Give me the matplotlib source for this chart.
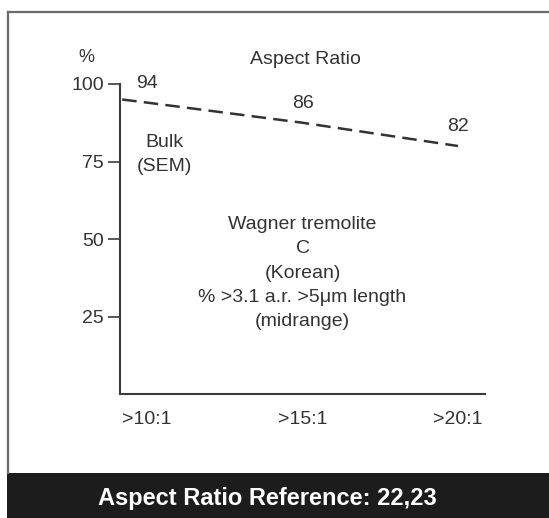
import matplotlib
matplotlib.use("Agg")
import matplotlib.pyplot as plt
from matplotlib.patches import Rectangle
from matplotlib.lines import Line2D

# Data
categories = [">10:1", ">15:1", ">20:1"]
cat_x = [10, 15, 20]
pct_labels = [94, 86, 82]
# dashed trend line as drawn (starts just right of the axis)
trend_x = [9.2, 10, 15, 20]
trend_y = [95, 94, 87.5, 80]
y_ticks = [25, 50, 75, 100]

title = "Aspect Ratio"
note_left = "Bulk\n(SEM)"
note_mid = "Wagner tremolite\nC\n(Korean)\n% >3.1 a.r. >5\u03bcm length\n(midrange)"
banner = "Aspect Ratio Reference: 22,23"

ink = "#333333"
plt.rcParams["font.family"] = ["Liberation Sans", "DejaVu Sans"]

W, H = 549, 518
fig = plt.figure(figsize=(W / 100, H / 100), dpi=100)
fig.patch.set_facecolor("white")

ax = fig.add_axes([120 / W, 1 - 394 / H, 365 / W, 310 / H])
ax.set_xlim(9.13, 20.87)
ax.set_ylim(0, 100)
for s in ["top", "right"]:
    ax.spines[s].set_visible(False)
for s in ["left", "bottom"]:
    ax.spines[s].set_color("#3c3c3c")
    ax.spines[s].set_linewidth(1.5)

ax.set_yticks(y_ticks)
ax.set_yticklabels([str(v) for v in y_ticks])
ax.set_xticks(cat_x)
ax.set_xticklabels(categories)
ax.tick_params(axis="y", direction="out", length=8.5, width=1.2,
               color="#3c3c3c", pad=3, labelsize=14, labelcolor=ink)
ax.tick_params(axis="x", length=0, pad=12, labelsize=14, labelcolor=ink)

ax.plot(trend_x, trend_y, color=ink, lw=1.8, linestyle=(0, (5.8, 2.9)),
        clip_on=False)
for x, y, lab in zip(cat_x, trend_y[1:], pct_labels):
    ax.annotate(str(lab), (x, y), xytext=(0, 14), textcoords="offset points",
                ha="center", va="center", fontsize=14, color=ink)

ax.text(8.04, 108.5, "%", ha="center", va="center", fontsize=13,
        color=ink, clip_on=False)
ax.text(15.1, 108, title, ha="center", va="center", fontsize=14,
        color=ink, clip_on=False)
ax.text(10.55, 77.3, note_left, ha="center", va="center", fontsize=14,
        color=ink, linespacing=1.55)
ax.text(15.0, 39.0, note_mid, ha="center", va="center", fontsize=14,
        color=ink, linespacing=1.55)

# frame and bottom banner
fig.add_artist(Line2D([8 / W, 1], [1 - 12 / H, 1 - 12 / H],
                      color="#6a6a6a", lw=1.6))
fig.add_artist(Line2D([8 / W, 8 / W], [1 - 12 / H, 45 / H],
                      color="#6a6a6a", lw=1.6))
fig.add_artist(Rectangle((7 / W, 0), 1, 45 / H, color="#1c1c1c", lw=0))
fig.text(267 / W, 1 - 499 / H, banner, ha="center", va="center",
         fontsize=17, fontweight="bold", color="white")

fig.savefig("out.png", dpi=100)
